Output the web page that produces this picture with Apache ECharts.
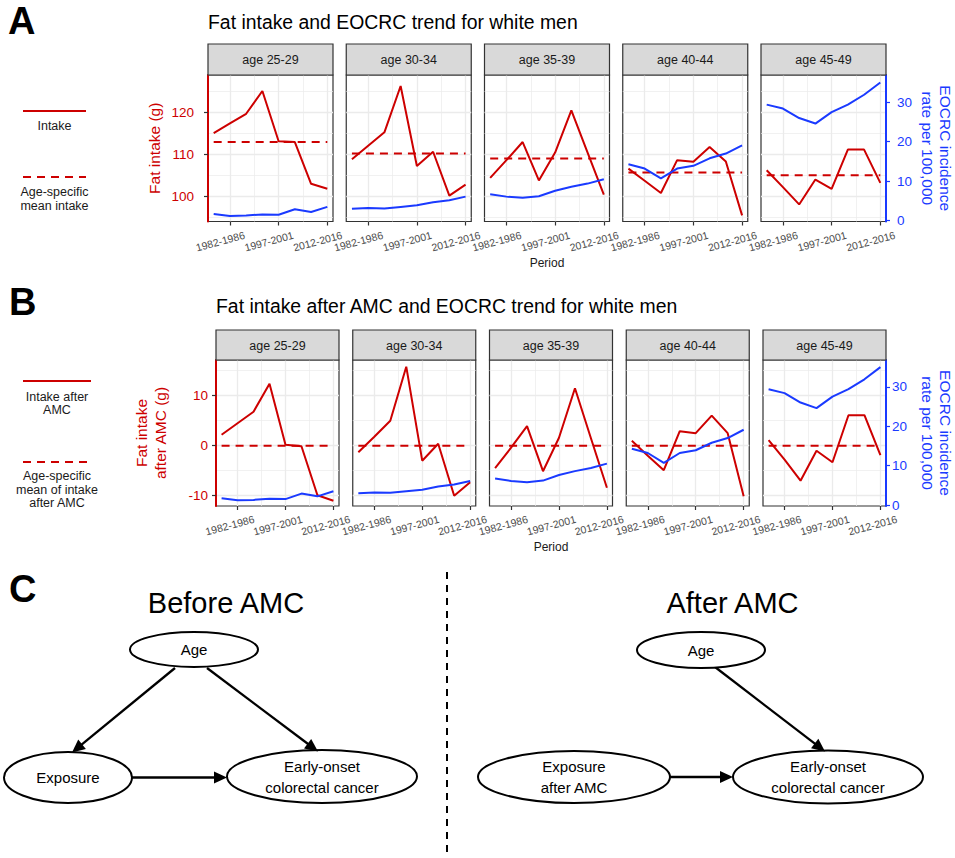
<!DOCTYPE html>
<html><head><meta charset="utf-8">
<script src="https://cdn.jsdelivr.net/npm/echarts@6/dist/echarts.min.js"></script>
<style>html,body{margin:0;padding:0;background:#fff}#c{width:955px;height:858px}</style>
</head><body><div id="c"></div>
<script>
// ---------------- DATA ----------------
const periods = ['1977-1981','1982-1986','1987-1991','1992-1996','1997-2001','2002-2006','2007-2011','2012-2016'];
const ageGroups = ['age 25-29','age 30-34','age 35-39','age 40-44','age 45-49'];

// Panel A: fat intake (g)
const intake_25_29 = [115.0, 117.3, 119.6, 125.0, 113.1, 112.9, 103.0, 101.8];
const intake_30_34 = [108.8, 112.0, 115.2, 126.2, 107.2, 110.6, 100.2, 102.8];
const intake_35_39 = [104.4, 108.6, 112.9, 103.8, 110.4, 120.4, 110.4, 100.4];
const intake_40_44 = [106.6, 103.7, 100.8, 108.6, 108.2, 111.7, 108.3, 95.5];
const intake_45_49 = [106.2, 102.2, 98.1, 104.0, 101.8, 111.1, 111.1, 103.2];
const meanIntake = [112.9, 110.2, 109.0, 105.7, 105.0];

// Panel B: fat intake after AMC (g)
const amc_25_29 = [2.2, 4.5, 6.8, 12.4, 0.2, -0.1, -9.9, -11.0];
const amc_30_34 = [-1.3, 1.8, 5.0, 15.8, -3.0, 0.4, -10.0, -7.3];
const amc_35_39 = [-4.5, -0.4, 3.9, -5.1, 1.6, 11.5, 1.5, -8.4];
const amc_40_44 = [1.0, -2.0, -4.9, 2.9, 2.5, 6.0, 2.5, -10.1];
const amc_45_49 = [1.1, -2.8, -7.0, -1.0, -3.3, 6.1, 6.1, -1.9];
const meanAmc = [0, 0, 0, 0, 0];

// EOCRC incidence rate per 100,000
const rate_25_29 = [1.7, 1.2, 1.3, 1.6, 1.5, 2.9, 2.2, 3.5];
const rate_30_34 = [3.0, 3.2, 3.1, 3.5, 3.9, 4.7, 5.2, 6.1];
const rate_35_39 = [6.7, 6.1, 5.8, 6.2, 7.6, 8.6, 9.4, 10.5];
const rate_40_44 = [14.3, 13.2, 10.7, 13.2, 13.9, 15.8, 17.0, 19.1];
const rate_45_49 = [29.4, 28.4, 26.0, 24.6, 27.5, 29.4, 31.9, 35.0];

// Tick values
const xLabelTicks = [1, 4, 7];
const xMinorTicks = [2.5, 5.5];
const yTicksA = [100, 110, 120];
const yMinorA = [95, 105, 115, 125];
const yTicksB = [-10, 0, 10];
const yMinorB = [-5, 5, 15];
const yTicksRate = [0, 10, 20, 30];

// Texts
const titleA = 'Fat intake and EOCRC trend for white men';
const titleB = 'Fat intake after AMC and EOCRC trend for white men';
const legendA = ['Intake', 'Age-specific\nmean intake'];
const legendB = ['Intake after\nAMC', 'Age-specific\nmean of intake\nafter AMC'];
const dagLeft = ['Age', 'Exposure', 'Early-onset\ncolorectal cancer'];
const dagRight = ['Age', 'Exposure\nafter AMC', 'Early-onset\ncolorectal cancer'];

// ---------------- LAYOUT ----------------
const FONT = '"Liberation Sans", Arial, Helvetica, sans-serif';
const RED = '#CD0000', BLUE = '#1A3AFF', GRID = '#EBEBEB', DARK = '#333333';

const rates = [rate_25_29, rate_30_34, rate_35_39, rate_40_44, rate_45_49];
const rows = [
  { intake: [intake_25_29, intake_30_34, intake_35_39, intake_40_44, intake_45_49], mean: meanIntake,
    top: 75, height: 146.5, left0: 208, step: 138.25, width: 125, stripH: 31,
    lmin: 94.05, lmax: 128.8, lmajor: yTicksA, lminor: yMinorA, rmin: -0.2, rmax: 36.9,
    yName: 'Fat intake (g)', yNameGap: 44, lMargin: 14, rMargin: 11, xPad: 20 },
  { intake: [amc_25_29, amc_30_34, amc_35_39, amc_40_44, amc_45_49], mean: meanAmc,
    top: 360, height: 146, left0: 216, step: 136.75, width: 123, stripH: 30,
    lmin: -12.06, lmax: 17.14, lmajor: yTicksB, lminor: yMinorB, rmin: -0.25, rmax: 36.8,
    yName: 'Fat intake\nafter AMC (g)', yNameGap: 46, lMargin: 8, rMargin: 6, xPad: 16 }
];

const grids = [], xAxes = [], yAxes = [], series = [], graphics = [];

rows.forEach((row, r) => {
  for (let k = 0; k < 5; k++) {
    const g = r * 5 + k;
    const left = row.left0 + row.step * k;
    const first = k === 0, last = k === 4;
    grids.push({ left: left, top: row.top, width: row.width, height: row.height, show: true,
      backgroundColor: '#fff', borderColor: DARK, borderWidth: 1.2, containLabel: false, outerBoundsMode: 'none' });
    // strip
    graphics.push({ type: 'rect', shape: { x: left, y: row.top - row.stripH, width: row.width, height: row.stripH },
      style: { fill: '#D9D9D9', stroke: DARK, lineWidth: 1.2 }, z: 10 });
    graphics.push({ type: 'text', x: left + row.width / 2, y: row.top - row.stripH / 2 + 0.5,
      style: { text: ageGroups[k], fontSize: 12.5, fontFamily: FONT, fill: '#1A1A1A', align: 'center', verticalAlign: 'middle' }, z: 11 });

    xAxes.push({ gridIndex: g, type: 'value', min: -0.35, max: 7.35, position: 'bottom',
      axisLine: { show: false, onZero: false },
      axisTick: { show: true, customValues: xLabelTicks, length: 4, lineStyle: { color: DARK, width: 1.2 } },
      axisLabel: { show: true, customValues: xLabelTicks, formatter: v => periods[Math.round(v)],
        rotate: 15, align: 'center', verticalAlign: 'middle', padding: [0, row.xPad, 0, 0], margin: 17,
        fontSize: 10.5, fontFamily: FONT, color: '#4D4D4D' },
      splitLine: { show: true, lineStyle: { color: GRID, width: 1.3 } },
      name: k === 2 ? 'Period' : '', nameLocation: 'middle', nameGap: 35, nameMoveOverlap: false,
      nameTextStyle: { fontSize: 12, fontFamily: FONT, color: '#1A1A1A' } });
    xAxes.push({ gridIndex: g, type: 'value', min: -0.35, max: 7.35, position: 'bottom',
      axisLine: { show: false, onZero: false }, axisTick: { show: false, customValues: xMinorTicks },
      axisLabel: { show: false, customValues: xMinorTicks },
      splitLine: { show: true, lineStyle: { color: GRID, width: 0.7 } } });

    yAxes.push({ gridIndex: g, type: 'value', position: 'left', min: row.lmin, max: row.lmax,
      axisLine: { show: first, onZero: false, lineStyle: { color: RED, width: 2 } },
      axisTick: { show: first, customValues: row.lmajor, length: 4, lineStyle: { color: DARK, width: 1.2 } },
      axisLabel: { show: first, customValues: row.lmajor, margin: row.lMargin, fontSize: 13.5, fontFamily: FONT, color: RED },
      splitLine: { show: true, lineStyle: { color: GRID, width: 1.3 } },
      name: first ? row.yName : '', nameLocation: 'middle', nameGap: row.yNameGap, nameMoveOverlap: false,
      nameTextStyle: { fontSize: 15.5, fontFamily: FONT, color: RED, lineHeight: 19 } });
    yAxes.push({ gridIndex: g, type: 'value', position: 'left', min: row.lmin, max: row.lmax,
      axisLine: { show: false, onZero: false }, axisTick: { show: false, customValues: row.lminor },
      axisLabel: { show: false, customValues: row.lminor },
      splitLine: { show: true, lineStyle: { color: GRID, width: 0.7 } } });
    yAxes.push({ gridIndex: g, type: 'value', position: 'right', min: row.rmin, max: row.rmax,
      axisLine: { show: last, onZero: false, lineStyle: { color: BLUE, width: 2 } },
      axisTick: { show: last, customValues: yTicksRate, length: 4, lineStyle: { color: BLUE, width: 1.2 } },
      axisLabel: { show: last, customValues: yTicksRate, margin: row.rMargin, fontSize: 13.5, fontFamily: FONT, color: BLUE },
      splitLine: { show: false },
      name: last ? 'EOCRC incidence\nrate per 100,000' : '', nameLocation: 'middle', nameRotate: -90, nameGap: 32,
      nameMoveOverlap: false,
      nameTextStyle: { fontSize: 15.5, fontFamily: FONT, color: BLUE, lineHeight: 18 } });

    const xi = 2 * g, yi = 3 * g;
    series.push({ type: 'line', xAxisIndex: xi, yAxisIndex: yi, symbol: 'none', silent: true, animation: false,
      data: row.intake[k].map((v, i) => [i, v]), lineStyle: { color: RED, width: 2 }, z: 3 });
    series.push({ type: 'line', xAxisIndex: xi, yAxisIndex: yi, symbol: 'none', silent: true, animation: false,
      data: [[0, row.mean[k]], [periods.length - 1, row.mean[k]]], lineStyle: { color: RED, width: 2, type: [8, 6] }, z: 3 });
    series.push({ type: 'line', xAxisIndex: xi, yAxisIndex: yi + 2, symbol: 'none', silent: true, animation: false,
      data: rates[k].map((v, i) => [i, v]), lineStyle: { color: BLUE, width: 2 }, z: 4 });
  }
});

// Panel letters & titles
function txt(x, y, text, size, opts) {
  return Object.assign({ type: 'text', x: x, y: y, z: 20,
    style: Object.assign({ text: text, fontSize: size, fontFamily: FONT, fill: '#000', align: 'left', verticalAlign: 'middle' }, opts || {}) });
}
graphics.push(txt(8, 20.5, 'A', 38, { fontWeight: 'bold' }));
graphics.push(txt(9, 301.5, 'B', 38, { fontWeight: 'bold' }));
graphics.push(txt(9, 588.5, 'C', 38, { fontWeight: 'bold' }));
graphics.push(txt(208, 22, titleA, 19.4, { fill: '#000' }));
graphics.push(txt(216, 305.5, titleB, 19.4, { fill: '#000' }));

// Legends
function legLine(x1, x2, y, dashed) {
  return { type: 'line', shape: { x1: x1, y1: y, x2: x2, y2: y }, z: 20,
    style: { stroke: RED, lineWidth: 2, lineDash: dashed ? [8, 6] : null } };
}
graphics.push(legLine(23, 86, 111, false));
graphics.push(txt(54.5, 126, legendA[0], 12.5, { align: 'center', fill: '#1A1A1A', lineHeight: 13.5 }));
graphics.push(legLine(23, 86, 177, true));
graphics.push(txt(54.5, 199, legendA[1], 12.5, { align: 'center', fill: '#1A1A1A', lineHeight: 13.5 }));
graphics.push(legLine(23, 91, 381, false));
graphics.push(txt(57, 403.5, legendB[0], 12.5, { align: 'center', fill: '#1A1A1A', lineHeight: 13.5 }));
graphics.push(legLine(23, 91, 462, true));
graphics.push(txt(57, 489.5, legendB[1], 12.5, { align: 'center', fill: '#1A1A1A', lineHeight: 13.8 }));

// Panel C: DAGs
function node(cx, cy, rx, ry, label) {
  return [
    { type: 'ellipse', shape: { cx: cx, cy: cy, rx: rx, ry: ry }, style: { fill: '#fff', stroke: '#000', lineWidth: 2 }, z: 21 },
    txt(cx, cy, label, 15, { align: 'center', lineHeight: 21, z: 22 })
  ].map(e => { e.z = 22; return e; });
}
function arrow(x1, y1, x2, y2) {
  const dx = x2 - x1, dy = y2 - y1, len = Math.hypot(dx, dy), ux = dx / len, uy = dy / len;
  const L = 13, W = 12, bx = x2 - ux * L, by = y2 - uy * L;
  return [
    { type: 'line', shape: { x1: x1, y1: y1, x2: bx + ux, y2: by + uy }, style: { stroke: '#000', lineWidth: 2.3 }, z: 20 },
    { type: 'polygon', shape: { points: [[x2, y2], [bx - uy * W / 2, by + ux * W / 2], [bx + uy * W / 2, by - ux * W / 2]] },
      style: { fill: '#000' }, z: 23 }
  ];
}
graphics.push(txt(226, 603, 'Before AMC', 29, { align: 'center' }));
graphics.push(txt(732.5, 603, 'After AMC', 29, { align: 'center' }));
graphics.push({ type: 'line', shape: { x1: 447, y1: 572, x2: 447, y2: 858 }, style: { stroke: '#000', lineWidth: 2, lineDash: [7, 6] }, z: 20 });

[].concat(
  arrow(175, 668, 72, 752.5), arrow(207, 668, 318, 751.5), arrow(132, 777.5, 227, 777.5),
  arrow(715, 667, 825, 751.5), arrow(670, 777, 733, 777),
  node(194, 649.5, 64, 17.5, dagLeft[0]), node(68, 777.5, 64, 25.5, dagLeft[1]), node(322, 776.5, 95, 26.5, dagLeft[2]),
  node(701, 650, 64, 18, dagRight[0]), node(574, 777, 96, 26, dagRight[1]), node(828, 777, 95, 26.5, dagRight[2])
).forEach(e => graphics.push(e));

const chart = echarts.init(document.getElementById('c'), null, { renderer: 'svg', width: 955, height: 858 });
chart.setOption({
  animation: false,
  backgroundColor: '#fff',
  textStyle: { fontFamily: FONT },
  grid: grids,
  xAxis: xAxes,
  yAxis: yAxes,
  series: series,
  graphic: { elements: graphics }
});
</script>
</body></html>
